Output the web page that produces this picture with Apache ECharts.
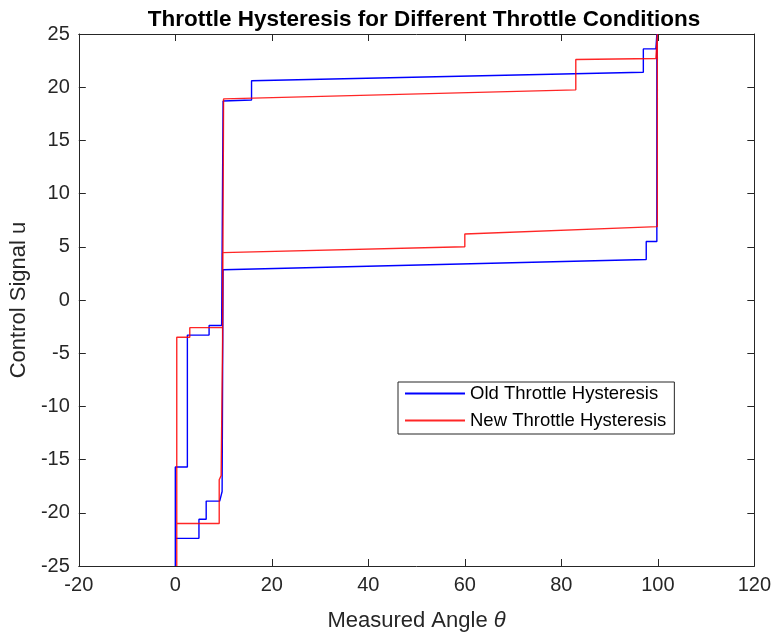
<!DOCTYPE html>
<html>
<head>
<meta charset="utf-8">
<script src="https://cdn.jsdelivr.net/npm/echarts@6/dist/echarts.min.js"></script>
<style>html,body{margin:0;padding:0;background:#fff}#c{width:774px;height:637px}</style>
</head>
<body>
<div id="c"></div>
<script>
// Data
const oldTheta = [0, 0, 2.5, 2.5, 7.0, 7.0, 9.6, 9.9, 15.8, 15.8, 97.0, 97.0, 99.6, 99.8, 99.8, 97.6, 97.6, 9.9, 9.7, 9.2, 6.4, 6.4, 4.9, 4.9, 0, 0];
const oldU     = [-25, -15.7, -15.7, -3.3, -3.3, -2.4, -2.4, 18.7, 18.8, 20.6, 21.4, 23.6, 23.6, 25, 5.5, 5.5, 3.8, 2.85, -18.0, -18.9, -18.9, -20.6, -20.6, -22.4, -22.4, -25];
const newTheta = [0.3, 0.3, 3.0, 3.0, 9.8, 10.0, 83.0, 83.0, 99.6, 99.9, 99.9, 60.0, 60.0, 9.8, 9.8, 9.5, 9.1, 9.1, 0.3, 0.3];
const newU     = [-25, -3.5, -3.5, -2.6, -2.6, 18.9, 19.75, 22.6, 22.7, 25, 6.9, 6.2, 5.0, 4.45, -3.8, -16.5, -16.9, -21.0, -21.0, -25];
const xTicks = [-20, 120, 20];
const yTicks = [-25, 25, 5];

const zip = (a, b) => a.map((v, i) => [v, b[i]]);
const axisColor = '#262626';
const font = 'Liberation Sans, Arial, Helvetica, sans-serif';

const chart = echarts.init(document.getElementById('c'), null, {renderer: 'canvas'});
const baseX = {
  type: 'value', min: xTicks[0], max: xTicks[1], interval: xTicks[2],
  axisLine: {show: true, onZero: false, lineStyle: {color: axisColor, width: 1}},
  axisTick: {show: true, inside: true, length: 7, lineStyle: {color: axisColor}},
  splitLine: {show: false}
};
const baseY = {
  type: 'value', min: yTicks[0], max: yTicks[1], interval: yTicks[2],
  axisLine: {show: true, onZero: false, lineStyle: {color: axisColor, width: 1}},
  axisTick: {show: true, inside: true, length: 7, lineStyle: {color: axisColor}},
  splitLine: {show: false}
};
chart.setOption({
  animation: false,
  backgroundColor: '#fff',
  textStyle: {fontFamily: font},
  title: {
    text: 'Throttle Hysteresis for Different Throttle Conditions',
    left: 419, top: 3, textAlign: 'center',
    textStyle: {fontFamily: font, fontWeight: 'bold', fontSize: 22.5, color: '#000'}
  },
  grid: {left: 78, top: 34, right: 19, bottom: 69, containLabel: false},
  xAxis: [
    Object.assign({}, baseX, {
      position: 'bottom',
      axisLabel: {show: true, fontSize: 20, color: axisColor, margin: 9, fontFamily: font},
      name: 'Measured Angle {i|θ}', nameLocation: 'middle', nameGap: 44,
      nameTextStyle: {fontSize: 22, color: axisColor, fontFamily: font,
        rich: {i: {fontStyle: 'italic', fontSize: 22, color: axisColor, fontFamily: font}}}
    }),
    Object.assign({}, baseX, {position: 'top', axisLabel: {show: false}})
  ],
  yAxis: [
    Object.assign({}, baseY, {
      position: 'left',
      axisLabel: {show: true, fontSize: 20, color: axisColor, margin: 9, fontFamily: font},
      name: 'Control Signal u', nameLocation: 'middle', nameGap: 40, nameRotate: 90,
      nameTextStyle: {fontSize: 22, color: axisColor, fontFamily: font}
    }),
    Object.assign({}, baseY, {position: 'right', axisLabel: {show: false}})
  ],
  legend: {
    left: 398, top: 382, orient: 'vertical',
    backgroundColor: '#fff', borderColor: axisColor, borderWidth: 1,
    padding: [2, 8, 4, 6], itemGap: 8, itemWidth: 60, itemHeight: 18,
    itemStyle: {opacity: 0},
    textStyle: {fontSize: 18.5, color: '#000', fontFamily: font},
    data: ['Old Throttle Hysteresis', 'New Throttle Hysteresis']
  },
  series: [
    {
      name: 'Old Throttle Hysteresis', type: 'line', xAxisIndex: 0, yAxisIndex: 0,
      data: zip(oldTheta, oldU), showSymbol: false, symbol: 'none',
      lineStyle: {color: '#0000ff', width: 1.4}, itemStyle: {color: '#0000ff'}
    },
    {
      name: 'New Throttle Hysteresis', type: 'line', xAxisIndex: 0, yAxisIndex: 0,
      data: zip(newTheta, newU), showSymbol: false, symbol: 'none',
      lineStyle: {color: '#ff0000', width: 1.4, opacity: 0.85}, itemStyle: {color: '#ff0000'}
    }
  ]
});
</script>
</body>
</html>
